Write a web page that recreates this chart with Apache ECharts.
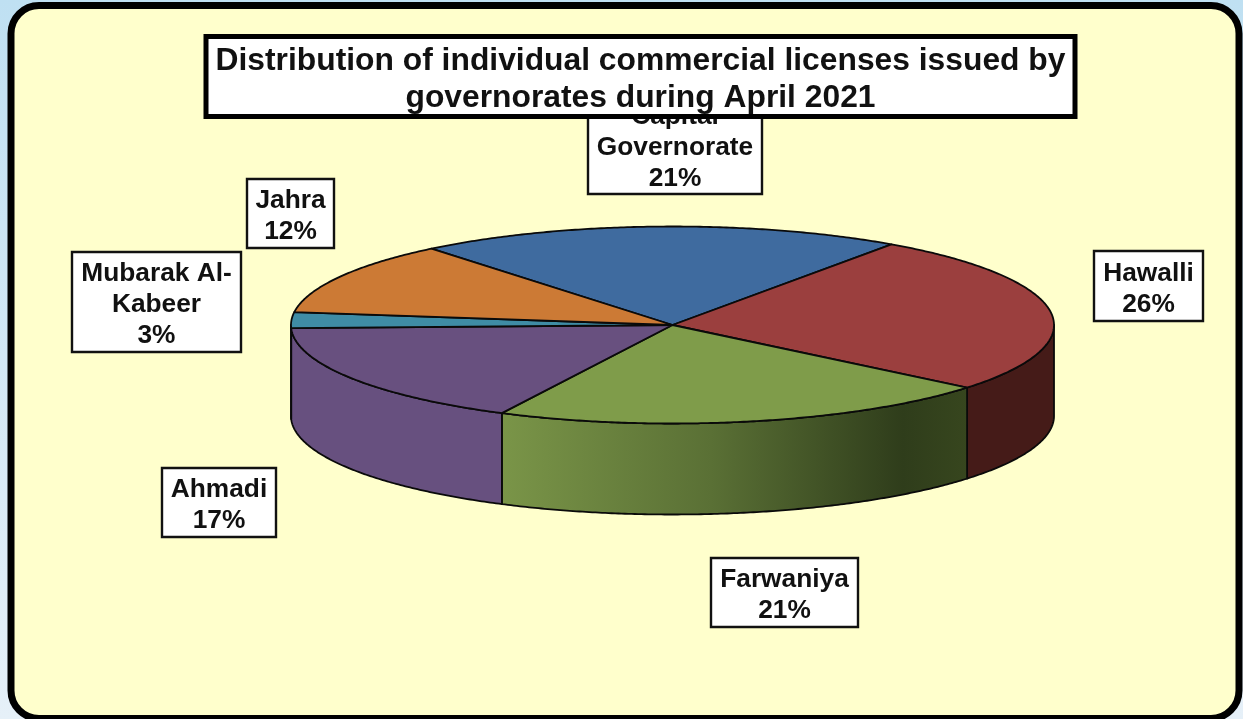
<!DOCTYPE html>
<html>
<head>
<meta charset="utf-8">
<style>html,body{margin:0;padding:0;background:#dcecf6;overflow:hidden}#c{width:1243px;height:719px}</style>
<script src="https://cdn.jsdelivr.net/npm/echarts@6/dist/echarts.min.js"></script>
</head>
<body>
<div id="c"></div>
<script>
const titleText = 'Distribution of individual commercial licenses issued by\ngovernorates during April 2021';
const categories = ['Capital Governorate', 'Hawalli', 'Farwaniya', 'Ahmadi', 'Mubarak Al-Kabeer', 'Jahra'];
const labelNames = ['Capital\nGovernorate', 'Hawalli', 'Farwaniya', 'Ahmadi', 'Mubarak Al-\nKabeer', 'Jahra'];
const values = [20.6, 26.2, 21.4, 17.1, 2.6, 12.0];

const topColors = ['#3f6b9f', '#9b3f3e', '#7f9c4a', '#68507f', '#3f8ca5', '#cc7a35'];
const wallColors = ['#2a4a70', '#451b18', null, '#67507f', '#3f8ca5', '#8a5224'];
const labelBoxes = [[588,96,174,98],[1094,251,109,70],[711,558,147,69],[162,468,114,69],[72,252,169,100],[247,179,87,69]];
const pie = {cx: 672.5, cy: 325, rx: 381.5, ry: 98.5, depth: 91, start: 129.2};

const total = values.reduce((a, b) => a + b, 0);
const rad = d => d * Math.PI / 180;
const pt = (deg, drop) => [pie.cx + pie.rx * Math.cos(rad(deg)), pie.cy - pie.ry * Math.sin(rad(deg)) + (drop || 0)];
function arc(a0, a1, drop) {
  const n = Math.max(2, Math.ceil(Math.abs(a1 - a0) * 2)), out = [];
  for (let i = 0; i <= n; i++) out.push(pt(a0 + (a1 - a0) * i / n, drop));
  return out;
}
const greenWall = {type: 'linear', x: 0, y: 0, x2: 1, y2: 0, colorStops: [
  {offset: 0, color: '#7a9548'}, {offset: 0.45, color: '#5a7035'},
  {offset: 0.86, color: '#2f3d1b'}, {offset: 1, color: '#37461e'}]};

function renderSlice(params, api) {
  const i = params.dataIndex, v = api.value(1);
  let before = 0;
  for (let k = 0; k < i; k++) before += values[k];
  const a0 = pie.start - before / total * 360;
  const a1 = a0 - v / total * 360;
  const children = [];
  const wallFrom = Math.min(a0, 0), wallTo = Math.max(a1, -180);
  if (wallFrom > wallTo) {
    const front = arc(wallFrom, wallTo, 0), back = arc(wallTo, wallFrom, pie.depth);
    children.push({type: 'polygon', z2: 1, shape: {points: front.concat(back)},
      style: {fill: wallColors[i] || greenWall, stroke: '#0a0a0a', lineWidth: 1.8, lineJoin: 'round'}});
  }
  children.push({type: 'polygon', z2: 2, shape: {points: [[pie.cx, pie.cy]].concat(arc(a0, a1, 0))},
    style: {fill: topColors[i], stroke: '#0a0a0a', lineWidth: 1.8, lineJoin: 'round'}});
  const b = labelBoxes[i];
  children.push({type: 'rect', z2: 3, shape: {x: b[0], y: b[1], width: b[2], height: b[3]},
    style: {fill: '#fff', stroke: '#111', lineWidth: 2.4}});
  children.push({type: 'text', z2: 4, x: b[0] + b[2] / 2, y: b[1] + b[3] / 2 + 3,
    style: {text: labelNames[i] + '\n' + Math.round(v) + '%', align: 'center', verticalAlign: 'middle',
      font: 'bold 26.3px "Liberation Sans"', lineHeight: 31, fill: '#111'}});
  return {type: 'group', children};
}

const chart = echarts.init(document.getElementById('c'), null, {renderer: 'canvas'});
chart.setOption({
  animation: false,
  backgroundColor: {type: 'linear', x: 0, y: 0, x2: 0, y2: 1, colorStops: [
    {offset: 0, color: '#bfe0f2'}, {offset: 1, color: '#e6f0f8'}]},
  title: {
    text: titleText, left: 630.5, top: 36, textAlign: 'center',
    backgroundColor: '#fff', borderColor: '#000', borderWidth: 5,
    padding: [7, 10, 0, 10],
    textStyle: {fontFamily: 'Liberation Sans', fontWeight: 'bold', fontSize: 31.8, lineHeight: 37, color: '#111', align: 'center'}
  },
  graphic: [{type: 'rect', z: -1, shape: {x: 11, y: 5.5, width: 1228, height: 713, r: 28},
    style: {fill: '#ffffcc', stroke: '#000', lineWidth: 7}}],
  series: [{
    type: 'custom', coordinateSystem: 'none', renderItem: renderSlice, z: 2,
    data: categories.map((name, i) => ({name, value: [i, values[i]]}))
  }]
});
</script>
</body>
</html>
